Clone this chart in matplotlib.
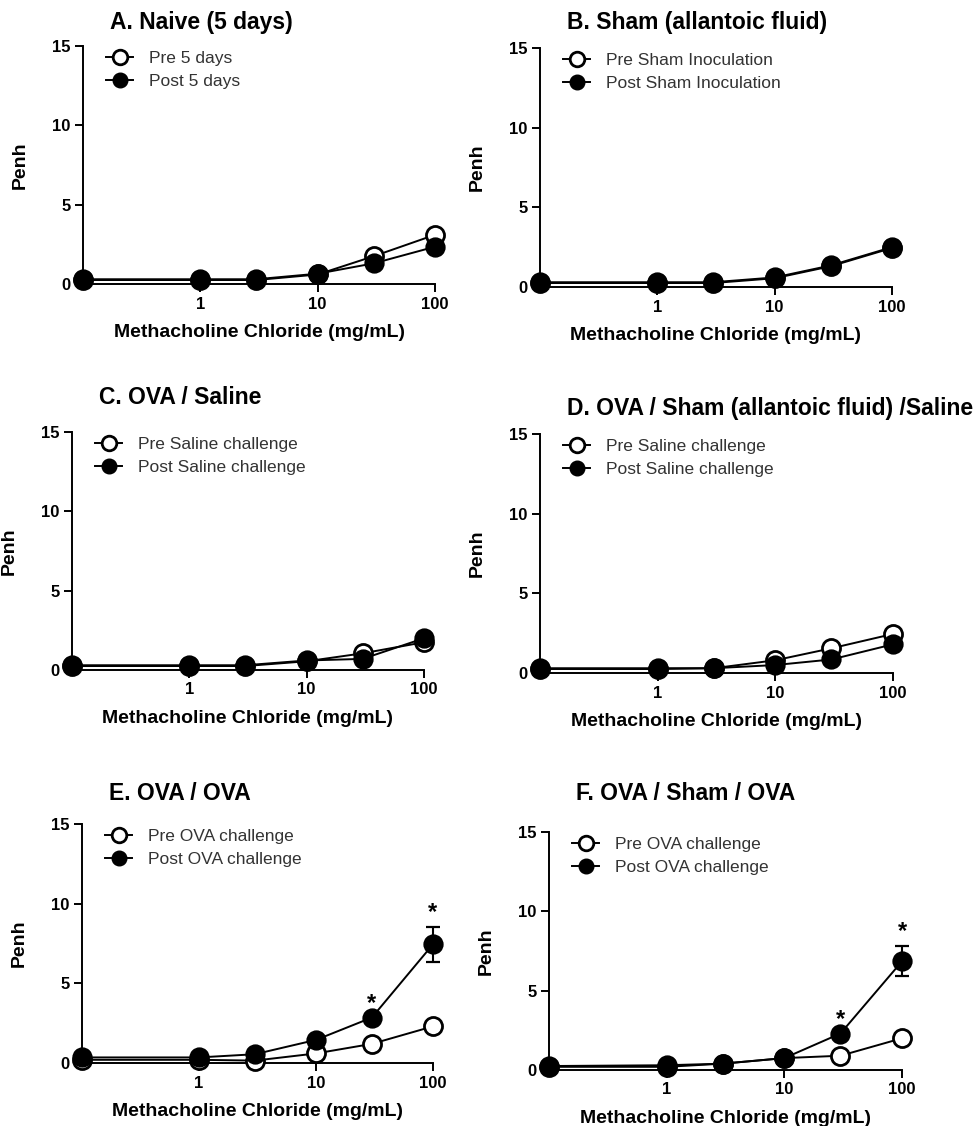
import numpy as np
import matplotlib
matplotlib.use('Agg')
import matplotlib.pyplot as plt
from matplotlib.lines import Line2D

plt.rcParams['font.family'] = ['Liberation Sans', 'DejaVu Sans']

# dose (mg/mL); first point is the saline baseline drawn at the axis edge
dose = [0.1, 1, 3, 10, 30, 100]

titles = ['A. Naive (5 days)', 'B. Sham (allantoic fluid)', 'C. OVA / Saline',
          'D. OVA / Sham (allantoic fluid) /Saline', 'E. OVA / OVA', 'F. OVA / Sham / OVA']
pre_labels = ['Pre 5 days', 'Pre Sham Inoculation', 'Pre Saline challenge',
              'Pre Saline challenge', 'Pre OVA challenge', 'Pre OVA challenge']
post_labels = ['Post 5 days', 'Post Sham Inoculation', 'Post Saline challenge',
               'Post Saline challenge', 'Post OVA challenge', 'Post OVA challenge']

pre_A = [0.25, 0.25, 0.25, 0.6, 1.75, 3.1]
post_A = [0.3, 0.3, 0.3, 0.65, 1.3, 2.35]
pre_B = [0.25, 0.25, 0.25, 0.55, 1.3, 2.45]
post_B = [0.3, 0.3, 0.3, 0.6, 1.35, 2.5]
pre_C = [0.25, 0.25, 0.25, 0.55, 1.05, 1.75]
post_C = [0.3, 0.3, 0.3, 0.6, 0.7, 2.0]
pre_D = [0.25, 0.25, 0.3, 0.8, 1.55, 2.45]
post_D = [0.3, 0.3, 0.3, 0.5, 0.85, 1.8]
pre_E = [0.2, 0.2, 0.15, 0.6, 1.2, 2.3]
post_E = [0.35, 0.35, 0.55, 1.45, 2.85, 7.45]
pre_F = [0.2, 0.2, 0.4, 0.75, 0.9, 2.0]
post_F = [0.25, 0.3, 0.4, 0.75, 2.3, 6.85]

# SEM of the post series (only visible ones)
err_E = [0, 0, 0, 0, 0, 1.1]
err_F = [0, 0, 0, 0, 0, 0.95]
err_none = [0, 0, 0, 0, 0, 0]

# asterisk doses
star_E = [30, 100]
star_F = [30, 100]

pre_all = [pre_A, pre_B, pre_C, pre_D, pre_E, pre_F]
post_all = [post_A, post_B, post_C, post_D, post_E, post_F]
err_all = [err_none, err_none, err_none, err_none, err_E, err_F]
stars_all = [[], [], [], [], star_E, star_F]

# axes boxes in pixels: left, right, top, bottom
W, H = 974, 1126
boxes = [(83, 435, 46, 284), (540, 892, 48, 287),
         (72, 424, 432, 670), (540, 893, 434, 673),
         (82, 433, 824, 1063), (549, 902, 832, 1070)]
title_gap = [24, 25, 34, 26, 31, 39]

fig = plt.figure(figsize=(W / 100, H / 100), dpi=100)

for i in range(6):
    l, r, t, b = boxes[i]
    ax = fig.add_axes([l / W, 1 - b / H, (r - l) / W, (b - t) / H])
    ax.set_xscale('log')

    # pre (open) below, post (filled) on top
    ax.plot(dose, pre_all[i], color='black', lw=1.4, marker='o', ms=13,
            mfc='white', mec='black', mew=2.0, clip_on=False, zorder=3)
    ax.errorbar(dose, post_all[i], yerr=err_all[i], color='black', lw=1.4,
                marker='o', ms=13, mfc='black', mec='black', mew=1.6,
                capsize=5, capthick=1.5, elinewidth=1.5, clip_on=False, zorder=4)

    for s in stars_all[i]:
        k = dose.index(s)
        ax.text(s, post_all[i][k] + err_all[i][k] + 0.9, '*', ha='center', va='center',
                fontsize=17, fontweight='bold')

    ax.set_xlim(0.1, 100)
    ax.set_ylim(0, 15)
    ax.set_xticks([1, 10, 100])
    ax.set_xticklabels(['1', '10', '100'])
    ax.xaxis.set_minor_locator(matplotlib.ticker.NullLocator())
    ax.set_yticks([0, 5, 10, 15])
    for sp in ['top', 'right']:
        ax.spines[sp].set_visible(False)
    for sp in ['left', 'bottom']:
        ax.spines[sp].set_linewidth(1.4)
    ax.tick_params(axis='both', direction='out', length=6, width=1.4, labelsize=12, pad=3)
    for lab in ax.get_xticklabels() + ax.get_yticklabels():
        lab.set_fontweight('bold')

    ax.set_xlabel('Methacholine Chloride (mg/mL)', fontsize=14, fontweight='bold', labelpad=9)
    ax.set_ylabel('Penh', fontsize=14, fontweight='bold', labelpad=17)

    ax.text(0.077, 1 + title_gap[i] / (b - t), titles[i], transform=ax.transAxes,
            ha='left', va='center', fontsize=16.5, fontweight='bold')

    h = [Line2D([], [], color='black', lw=1.4, marker='o', ms=10.5, mfc='white', mec='black', mew=2.0),
         Line2D([], [], color='black', lw=1.4, marker='o', ms=10.5, mfc='black', mec='black')]
    leg = ax.legend(h, [pre_labels[i], post_labels[i]], loc='upper left',
                    bbox_to_anchor=(0.02, 1.045), frameon=False, fontsize=12.5,
                    handlelength=1.6, handletextpad=0.9, labelspacing=0.45)
    for txt in leg.get_texts():
        txt.set_color('#333333')

fig.savefig('out.png', dpi=100)
